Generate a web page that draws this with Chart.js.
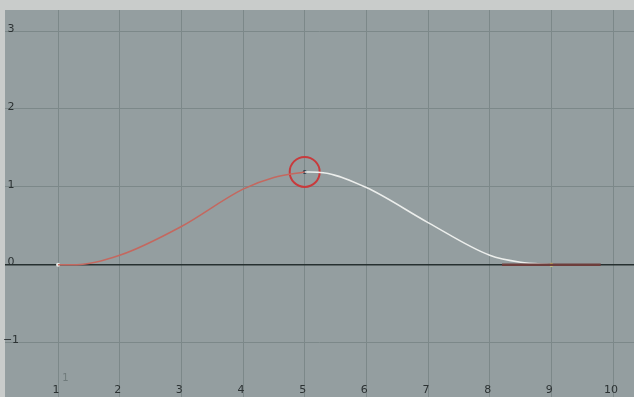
<!DOCTYPE html>
<html>
<head>
<meta charset="utf-8">
<script src="https://cdn.jsdelivr.net/npm/chart.js@4"></script>
<style>
  html, body { margin: 0; padding: 0; background: #c9cccb; }
  #wrap { width: 634px; height: 397px; }
</style>
</head>
<body>
<div id="wrap"><canvas id="curveChart" width="634" height="397"></canvas></div>
<script>
const riseX = [1, 1.3, 2, 3, 4, 4.5, 5];
const riseY = [0, 0, 0.12, 0.49, 0.97, 1.12, 1.19];
const fallX = [5, 5.3, 6, 7, 8, 8.5, 9];
const fallY = [1.19, 1.18, 0.99, 0.54, 0.12, 0.03, 0];
const handleX = [8.2, 9.8];
const handleY = [0, 0];
const keyX = [1, 5, 9];
const keyY = [0, 1.19, 0];
const xTicks = [1, 2, 3, 4, 5, 6, 7, 8, 9, 10];
const yTicks = [-1, 0, 1, 2, 3];

const toPts = (xs, ys) => xs.map((x, i) => ({ x: x, y: ys[i] }));

// ===== Plot background + inside labels =====
const editorLook = {
  id: 'editorLook',
  beforeDraw(chart) {
    const { ctx, chartArea: a } = chart;
    ctx.save();
    ctx.fillStyle = '#949ea0';
    ctx.fillRect(a.left, a.top, a.right - a.left, a.bottom - a.top);
    ctx.restore();
  },
  afterDatasetsDraw(chart) {
    const { ctx, chartArea: a, scales } = chart;
    ctx.save();
    ctx.fillStyle = '#2c3233';
    ctx.font = '11px "DejaVu Sans", sans-serif';
    ctx.textAlign = 'center';
    ctx.textBaseline = 'middle';
    yTicks.forEach(v => {
      ctx.fillText(String(v).replace('-', '\u2212'), a.left + 6, scales.y.getPixelForValue(v) - 2);
    });
    xTicks.forEach(v => {
      ctx.fillText(String(v), scales.x.getPixelForValue(v) - 2, a.bottom - 7);
    });
    ctx.fillStyle = '#6f7a7b';
    ctx.font = '10px "DejaVu Sans", sans-serif';
    ctx.fillText('1', scales.x.getPixelForValue(1.12), a.bottom - 19);
    ctx.restore();
  }
};

const gridCol = ctx => ctx.tick && ctx.tick.value === 0 ? '#263030' : '#7c8889';

new Chart(document.getElementById('curveChart'), {
  type: 'line',
  data: {
    datasets: [
      { data: toPts(handleX, handleY), borderColor: '#6e3e3c', borderWidth: 2.5, pointRadius: 0 },
      { data: toPts(riseX, riseY), borderColor: '#c4685f', borderWidth: 1.5, pointRadius: 0,
        cubicInterpolationMode: 'monotone' },
      { data: toPts(fallX, fallY), borderColor: '#eceeec', borderWidth: 1.5, pointRadius: 0,
        cubicInterpolationMode: 'monotone' },
      { data: toPts(keyX, keyY), showLine: false, pointRadius: 2, borderWidth: 0,
        pointBackgroundColor: ['#e8ece8', '#263a4a', '#e6e070'] },
      { data: [{ x: keyX[1], y: keyY[1] }], showLine: false, pointRadius: 15,
        pointBorderWidth: 2, pointBorderColor: '#c83a3c', pointBackgroundColor: 'rgba(0,0,0,0)' }
    ]
  },
  options: {
    responsive: false,
    animation: false,
    layout: { autoPadding: false, padding: { top: 10, left: 5, right: 0, bottom: 0 } },
    plugins: { legend: { display: false }, tooltip: { enabled: false } },
    scales: {
      x: {
        type: 'linear', min: 0.14, max: 10.34,
        afterBuildTicks: s => { s.ticks = xTicks.map(v => ({ value: v })); },
        ticks: { display: false },
        grid: { color: '#7c8889', lineWidth: 1, drawTicks: false },
        border: { display: false }
      },
      y: {
        type: 'linear', min: -1.7, max: 3.27,
        afterBuildTicks: s => { s.ticks = yTicks.map(v => ({ value: v })); },
        ticks: { display: false },
        grid: { color: gridCol, lineWidth: c => c.tick && c.tick.value === 0 ? 1.6 : 1, drawTicks: false },
        border: { display: false }
      }
    }
  },
  plugins: [editorLook]
});
</script>
</body>
</html>
